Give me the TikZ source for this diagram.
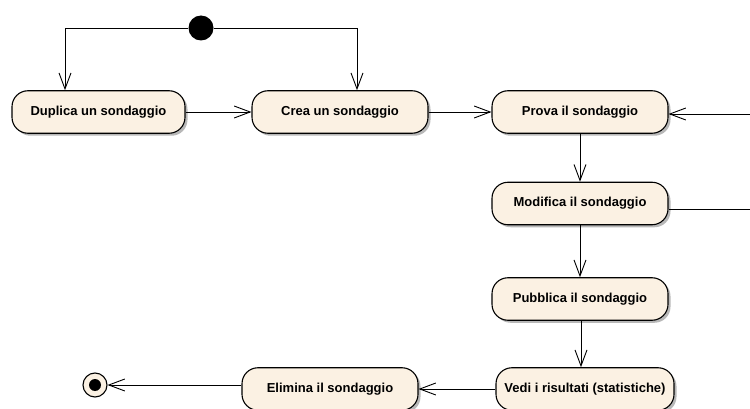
\documentclass[tikz,border=0pt]{standalone}
\usepackage{fontspec}
\setmainfont{Liberation Sans}
\usetikzlibrary{shadows,arrows.meta,calc}
\definecolor{actfill}{RGB}{251,241,227}
\begin{document}
\begin{tikzpicture}[x=1pt,y=-1pt,
  act/.style={draw=black, line width=1.1pt, fill=actfill, rounded corners=16pt,
    minimum height=42.5pt, minimum width=176pt, inner sep=0pt,
    font=\fontsize{13}{15}\selectfont\bfseries,
    drop shadow={shadow xshift=2.5pt, shadow yshift=-2.5pt, fill=black!35, opacity=0.8}},
  arr/.style={draw=black, line width=0.9pt, -{Straight Barb[length=16pt,width=12pt,line width=0.9pt]}},
  ln/.style={draw=black, line width=0.9pt}]
\useasboundingbox (0,0) rectangle (750,409);
% initial node
\node[circle, fill=black, minimum size=25pt, inner sep=0pt] (start) at (201,28) {};
% activities
\node[act, minimum width=173pt] (dup) at (98.5,112) {Duplica un sondaggio};
\node[act] (crea) at (340,112) {Crea un sondaggio};
\node[act] (prova) at (580,112) {Prova il sondaggio};
\node[act] (mod) at (580,203.5) {Modifica il sondaggio};
\node[act] (pub) at (580,299) {Pubblica il sondaggio};
\node[act, minimum width=178pt] (vedi) at (585,389) {Vedi i risultati (statistiche)};
\node[act] (elim) at (330,389) {Elimina il sondaggio};
% final node
\node[circle, draw=black, line width=1.1pt, fill=actfill, minimum size=24pt, inner sep=0pt] (end) at (95,385) {};
\node[circle, fill=black, minimum size=12pt, inner sep=0pt] (endin) at (end.center) {};
% off-picture loop ends
\coordinate (r1) at (752,114);
\coordinate (r2) at (752,209);
% connectors
\draw[arr] (start.west) -| ([xshift=-33.5pt]dup.north);
\draw[arr] (start.east) -| ([xshift=17pt]crea.north);
\draw[arr] (dup.east) -- (crea.west);
\draw[arr] (crea.east) -- (prova.west);
\draw[arr] (r1) -- ([yshift=-2pt]prova.east);
\draw[arr] (prova.south) -- (mod.north);
\draw[ln] ([yshift=-5.5pt]mod.east) -- (r2);
\draw[arr] (mod.south) -- (pub.north);
\draw[arr] ([xshift=1pt]pub.south) -- ([xshift=-4pt]vedi.north);
\draw[arr] (vedi.west) -- (elim.east);
\draw[arr] ([yshift=4pt]elim.west) -- (end.east);
\end{tikzpicture}
\end{document}
